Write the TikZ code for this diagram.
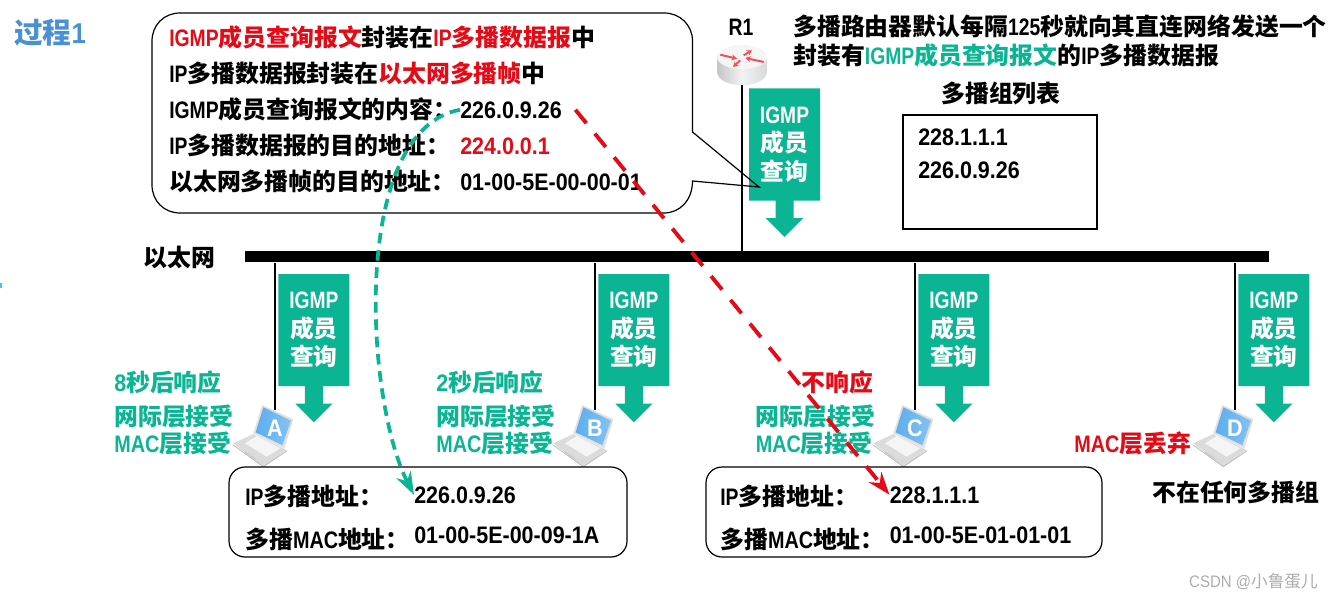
\documentclass[tikz,border=0pt]{standalone}
\usepackage{fontspec}
\usepackage{xcolor}
\usetikzlibrary{arrows.meta,calc,positioning,shapes.arrows}
\setmainfont{Liberation Sans}[FakeStretch=0.9]
\newfontfamily\cjk{Noto Sans CJK SC}
\newfontfamily\thinlat{Liberation Sans}[FakeStretch=0.81]
\newfontfamily\maclat{Liberation Sans}[FakeStretch=0.83]
\newcommand{\cn}[1]{{\cjk\bfseries #1}}
\newcommand{\en}[1]{{\thinlat\bfseries #1}}
\newcommand{\mac}{{\maclat\bfseries MAC}}
\definecolor{igmpgreen}{RGB}{11,181,147}
\definecolor{alertred}{RGB}{228,10,22}
\definecolor{titleblue}{RGB}{74,144,212}
\definecolor{screenblue}{RGB}{92,174,238}
\tikzset{
	lbl/.style={anchor=base west,inner sep=0pt,font=\fontsize{17.9}{21}\selectfont\bfseries},
	greenlbl/.style={lbl,text=igmpgreen},
	redlbl/.style={lbl,text=alertred},
	querybox/.style={shape=arrow box,draw=none,fill=igmpgreen,text=white,inner sep=0pt,
		minimum width=53.25pt,minimum height=84pt,align=center,
		arrow box arrows={south:27pt from border},arrow box shaft width=13.5pt,
		arrow box head extend=7.2pt,arrow box head indent=0pt,
		font=\fontsize{17.8}{21.3}\selectfont\bfseries},
	addrbox/.style={draw,line width=0.9pt,rounded corners=12pt,inner sep=0pt},
	pics/laptop/.style={code={
		\coordinate (-top) at (0,-18);
		\fill[gray!25] (-12.7,-23) -- (18.3,-8.7) -- (9.3,20.3) -- (-21.7,5.3) -- cycle;
		\shade[left color=screenblue,right color=screenblue!75!white] (-11.7,-20.7) -- (16,-7.3) -- (7.3,17) -- (-19.3,4.3) -- cycle;
		\fill[gray!28] (-41.7,15.3) -- (-21.7,6) -- (11.7,22) -- (-11.7,38.7) -- cycle;
		\fill[gray!8] (-30,15.3) -- (-18.3,8) -- (5,20.3) -- (-8.3,28.7) -- cycle;
		\draw[gray!55,line width=0.6pt] (-41.7,17) -- (-11.7,38.7) -- (11.7,23);
		\draw[gray!50,line width=0.5pt] (-30,24) -- (-20,31);
		\node[inner sep=0pt,text=white,font=\fontsize{18}{21}\selectfont\bfseries] (-letter) at (0,0) {\tikzpictext};
	}},
	pics/routericon/.style={code={
		\shade[left color=gray!45,right color=gray!30,middle color=gray!10] (-25,0) -- (-25,14) .. controls (-25,33) and (25,33) .. (25,14) -- (25,0) -- cycle;
		\fill[gray!8] (0,0) ellipse[x radius=25,y radius=12];
		\foreach \sx/\sy/\ex/\ey in {-21.7/-2.3/-5/1.7,1.7/-1.7/10/-6.7,21.7/5/3.3/1,-1.7/3.3/-9/10}{
			\draw[alertred!70,line width=1.5pt,-{Stealth[length=4pt,width=4.5pt]}] (\sx,\sy) -- (\ex,\ey);
		}
	}}
}

\begin{document}
\begin{tikzpicture}[x=0.75pt,y=-0.75pt,>=Stealth]
	\useasboundingbox (0,0) rectangle (1333,599);
	\fill[screenblue!70!cyan] (0,283) rectangle (2,288);
	\node[anchor=base west,inner sep=0pt,text=titleblue,font=\fontsize{21.5}{25}\selectfont\bfseries] (title) at (14,44) {\cn{过程}1};
	% 以太网总线
	\node[fill=black,inner sep=0pt,minimum width=768pt,minimum height=8.6pt] (eth) at (757,256.5) {};
	\node[lbl] (ethlabel) at (143,266) {\cn{以太网}};
	% 路由器
	\pic (R1) at (742,57) {routericon};
	\coordinate (R1foot) at (742,85);
	\draw[line width=2pt] (R1foot) -- (R1foot |- eth.north);
	\node[lbl,anchor=base] (R1label) at (741,36) {\en{R1}};
	\node[querybox] (queryR) at (784.5,144.5) {\en{IGMP}\\\cn{成员}\\\cn{查询}};
	% 气泡框
	\draw[line width=0.9pt] (692.5,132) -- (692.5,41) .. controls (692.5,25) and (680,13) .. (664,13) -- (180,13) .. controls (164,13) and (152,25) .. (152,41) -- (152,185) .. controls (152,201) and (164,213) .. (180,213) -- (664,213) .. controls (680,213) and (692.5,200) .. (692.5,181) -- (759,187) -- cycle;
	\node[lbl] (row1) at (169,47) {{\color{alertred}\en{IGMP}\cn{成员查询报文}}\cn{封装在}{\color{alertred}\en{IP}\cn{多播数据报}}\cn{中}};
	\node[lbl] (row2) at (169,83) {\en{IP}\cn{多播数据报封装在}{\color{alertred}\cn{以太网多播帧}}\cn{中}};
	\node[lbl] (row3) at (169,118) {\en{IGMP}\cn{成员查询报文的内容：}};
	\node[lbl] (contentval) at (460,118) {226.0.9.26};
	\node[lbl] (row4) at (169,154) {\en{IP}\cn{多播数据报的目的地址：}};
	\node[redlbl] (ipval) at (460,155) {224.0.0.1};
	\node[lbl] (row5) at (169,190) {\cn{以太网多播帧的目的地址：}};
	\node[lbl] (macval) at (460,190) {01-00-5E-00-00-01};
	% 右上说明
	\node[lbl] (note1) at (793,36) {\cn{多播路由器默认每隔}\en{125}\cn{秒就向其直连网络发送一个}};
	\node[lbl] (note2) at (793,65) {\cn{封装有}{\color{igmpgreen}\en{IGMP}\cn{成员查询报文}}\cn{的}\en{IP}\cn{多播数据报}};
	% 多播组列表
	\node[lbl,anchor=base] (listtitle) at (1001,103) {\cn{多播组列表}};
	\node[draw,line width=0.9pt,inner sep=0pt,minimum width=145.5pt,minimum height=85.5pt] (listbox) at (1000,172) {};
	\node[lbl] (list1) at (918,146) {228.1.1.1};
	\node[lbl] (list2) at (918,178) {226.0.9.26};
	% 四台主机
	\foreach \name/\hx in {A/275,B/595,C/915,D/1235}{
		\pic[pic text=\name] (host\name) at (\hx,428) {laptop};
		\node[querybox] (query\name) at (\hx+38.9,330) {\en{IGMP}\\\cn{成员}\\\cn{查询}};
	}
	\foreach \name in {A,B,C,D}{
		\draw[line width=2pt] (host\name-top |- eth.south) -- (host\name-top);
	}
	\node[greenlbl] (timeA) at (114,391) {8\cn{秒后响应}};
	\node[greenlbl] (netA) at (114,425) {\cn{网际层接受}};
	\node[greenlbl] (macA) at (114,452) {\mac\cn{层接受}};
	\node[greenlbl] (timeB) at (436,391) {2\cn{秒后响应}};
	\node[greenlbl] (netB) at (436,425) {\cn{网际层接受}};
	\node[greenlbl] (macB) at (436,452) {\mac\cn{层接受}};
	\node[redlbl] (timeC) at (801,391) {\cn{不响应}};
	\node[greenlbl] (netC) at (755.5,425) {\cn{网际层接受}};
	\node[greenlbl] (macC) at (755.5,452) {\mac\cn{层接受}};
	\node[redlbl] (macD) at (1074,452) {\mac\cn{层丢弃}};
	\node[lbl] (noneD) at (1152,501) {\cn{不在任何多播组}};
	% 地址框
	\node[addrbox,minimum width=298.5pt,minimum height=67.5pt] (addrA) at (428,512) {};
	\node[lbl] at (245,505) (ipA) {\en{IP}\cn{多播地址：}};
	\node[lbl] at (414,503) (ipvalA) {226.0.9.26};
	\node[lbl] at (245,548) (mA) {\cn{多播}\mac\cn{地址：}};
	\node[lbl] at (414,543) (mvalA) {01-00-5E-00-09-1A};
	\node[addrbox,minimum width=297pt,minimum height=67.5pt] (addrC) at (904,512) {};
	\node[lbl] at (720,505) (ipC) {\en{IP}\cn{多播地址：}};
	\node[lbl] at (889.5,503) (ipvalC) {228.1.1.1};
	\node[lbl] at (720,548) (mC) {\cn{多播}\mac\cn{地址：}};
	\node[lbl] at (889.5,543) (mvalC) {01-00-5E-01-01-01};
	% 虚线箭头
	\draw[igmpgreen,line width=2.8pt,dash pattern=on 8pt off 5pt,-{Stealth[length=17pt,width=12pt]}] (contentval.west) .. controls (350,130) and (365,400) .. (ipvalA.west);
	\draw[alertred,line width=2.9pt,dash pattern=on 13pt off 10pt,-{Stealth[length=17pt,width=12pt]}] ([xshift=10pt]contentval.east) -- (ipvalC.west);
	\node[anchor=base east,inner sep=0pt,text=gray!65,font=\fontsize{12.5}{14}\selectfont] (mark) at (1318,587) {CSDN @{\cjk 小鲁蛋儿}};
\end{tikzpicture}
\end{document}
